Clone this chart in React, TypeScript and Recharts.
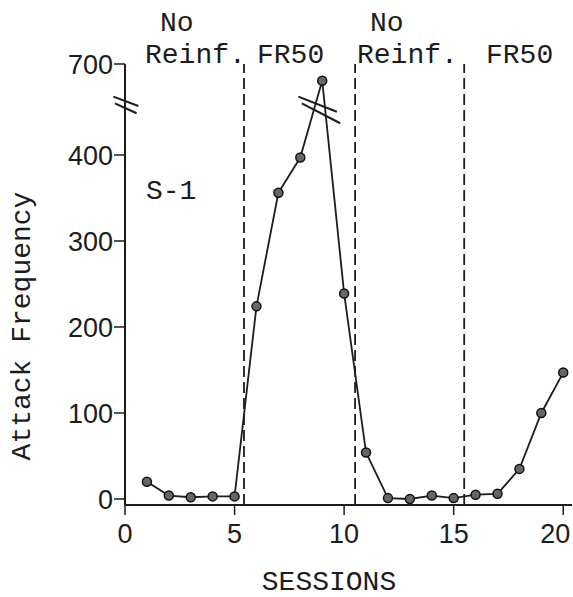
import React from 'react';
import { LineChart, Line, XAxis, YAxis, ReferenceLine } from 'recharts';

// sessions and attack counts (S-1)
const sessions = [1, 2, 3, 4, 5, 6, 7, 8, 9, 10, 11, 12, 13, 14, 15, 16, 17, 18, 19, 20];
const attacks = [20, 4, 2, 3, 3, 224, 356, 397, 645, 239, 54, 1, 0, 4, 1, 5, 6, 35, 100, 147];

// phase boundaries (dashed lines) and tick labels
const phaseBounds = [5.43, 10.5, 15.48];
const yTickValues = [0, 100, 200, 300, 400, 700];
const xTickValues = [0, 5, 10, 15, 20];

// axis is broken between 400 and 700
const BREAK_LOW = 400;
const BREAK_SPAN = 105.8; // plotted units given to 400..700
const compress = (v: number) => (v <= BREAK_LOW ? v : BREAK_LOW + ((v - BREAK_LOW) / 300) * BREAK_SPAN);
const expand = (p: number) => (p <= BREAK_LOW ? p : BREAK_LOW + ((p - BREAK_LOW) / BREAK_SPAN) * 300);

const data = sessions.map((s, i) => ({ session: s, plotted: compress(attacks[i]) }));

// the "//" break marks, in plot units
const breakMarks = [
  [{ x: -0.53, y: 467.8 }, { x: 0.61, y: 457 }],
  [{ x: -0.46, y: 460.1 }, { x: 0.53, y: 448.5 }],
  [{ x: 7.91, y: 467.8 }, { x: 9.67, y: 450.3 }],
  [{ x: 8.07, y: 460.1 }, { x: 9.82, y: 436.9 }],
];

const INK = '#1c1c1c';
const MONO = '"Liberation Mono", "DejaVu Sans Mono", monospace';
const NUM = '"Liberation Sans", Arial, sans-serif';

// x tick text; the last one is pulled in so it stays on the page
const XTick = (props: any) => {
  const { x, y, payload } = props;
  const shift = payload.value === 20 ? -8 : 0;
  return (
    <text x={x + shift} y={y} dy="0.71em" textAnchor="middle" fill={INK} fontSize={27} fontFamily={NUM}>
      {payload.value}
    </text>
  );
};

const App: React.FC = () => {
  return (
    <div style={{ position: 'absolute', left: 0, top: 0, width: 573, height: 597, background: '#fff' }}>
      <LineChart width={573} height={597} data={data} margin={{ top: 64, right: 1, bottom: 52, left: 65 }}>
        <XAxis
          dataKey="session"
          type="number"
          domain={[0, 20.4]}
          ticks={xTickValues}
          allowDataOverflow
          height={40}
          tickSize={10}
          tickMargin={9}
          axisLine={{ stroke: INK, strokeWidth: 2 }}
          tickLine={{ stroke: INK, strokeWidth: 1.5 }}
          tick={<XTick />}
        />
        <YAxis
          type="number"
          domain={[-7, compress(700)]}
          ticks={yTickValues.map(compress)}
          tickFormatter={(v: number) => String(Math.round(expand(v)))}
          allowDataOverflow
          width={60}
          tickSize={11}
          tickMargin={1}
          axisLine={{ stroke: INK, strokeWidth: 2 }}
          tickLine={{ stroke: INK, strokeWidth: 1.5 }}
          tick={{ fill: INK, fontSize: 27, fontFamily: NUM }}
        />
        {phaseBounds.map((x) => (
          <ReferenceLine key={x} x={x} stroke={INK} strokeWidth={1.8} strokeDasharray="11 5" />
        ))}
        {breakMarks.map((seg, i) => (
          <ReferenceLine key={'b' + i} segment={seg} ifOverflow="visible" stroke={INK} strokeWidth={2} />
        ))}
        <Line
          type="linear"
          dataKey="plotted"
          stroke={INK}
          strokeWidth={1.8}
          dot={{ r: 4.5, fill: '#666', stroke: '#111', strokeWidth: 1.5 }}
          isAnimationActive={false}
        />
      </LineChart>
      <svg
        width={573}
        height={597}
        style={{ position: 'absolute', left: 0, top: 0, pointerEvents: 'none' }}
        fontFamily={MONO}
        fontSize={28}
        fill={INK}
      >
        <text x={160} y={31}>No</text>
        <text x={145} y={63}>Reinf.</text>
        <text x={257} y={63}>FR50</text>
        <text x={370} y={31}>No</text>
        <text x={357} y={63}>Reinf.</text>
        <text x={486} y={63}>FR50</text>
        <text x={146} y={199}>S-1</text>
        <text x={329} y={590} textAnchor="middle">SESSIONS</text>
        <text x={30} y={326} textAnchor="middle" transform="rotate(-90, 30, 326)">Attack Frequency</text>
      </svg>
    </div>
  );
};

export default App;
